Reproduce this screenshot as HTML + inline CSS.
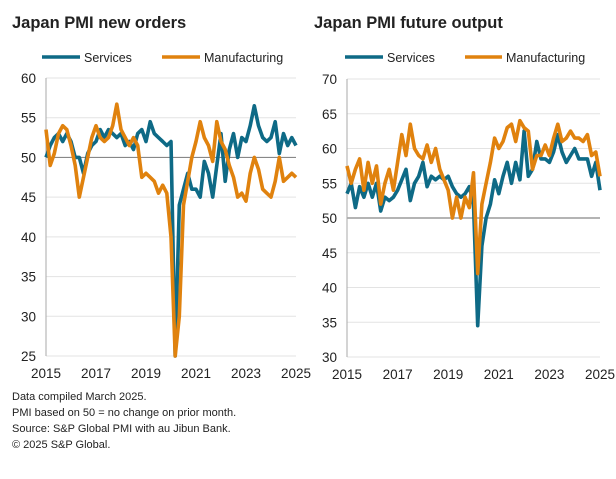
<!DOCTYPE html>
<html><head><meta charset="utf-8"><style>
body{margin:0;background:#fff;font-family:"Liberation Sans",sans-serif;}
svg text{font-family:"Liberation Sans",sans-serif;fill:#222;}
</style></head><body>
<svg id="c" width="616" height="474" xmlns="http://www.w3.org/2000/svg">
<text x="12" y="28" font-size="16.5" font-weight="bold">Japan PMI new orders</text>
<text x="314" y="28" font-size="16.5" font-weight="bold">Japan PMI future output</text>
<g font-size="12.5">
<line x1="42" y1="57" x2="80" y2="57" stroke="#0e6a86" stroke-width="3.5"/>
<text x="84" y="62">Services</text>
<line x1="162" y1="57" x2="200" y2="57" stroke="#e0820e" stroke-width="3.5"/>
<text x="204" y="62">Manufacturing</text>
<line x1="345" y1="57" x2="383" y2="57" stroke="#0e6a86" stroke-width="3.5"/>
<text x="387" y="62">Services</text>
<line x1="465" y1="57" x2="502" y2="57" stroke="#e0820e" stroke-width="3.5"/>
<text x="506" y="62">Manufacturing</text>
</g>
<g font-size="11">
<text x="12" y="400">Data compiled March 2025.</text>
<text x="12" y="416">PMI based on 50 = no change on prior month.</text>
<text x="12" y="432">Source: S&amp;P Global PMI with au Jibun Bank.</text>
<text x="12" y="448">© 2025 S&amp;P Global.</text>
</g>
</svg>
<script>
const years = [2015,2017,2019,2021,2023,2025];
const leftTicks = [25,30,35,40,45,50,55,60];
const rightTicks = [30,35,40,45,50,55,60,65,70];
const leftServices = [50,51.5,52.5,53,52,53,52,50,50,48,50.5,51.5,52,53.5,52.5,53.5,53,52.5,53,51.5,52,51,53,53.5,52,54.5,53,52.5,52,51.5,52,25,44,46,48,46,46,45,49.5,48,45,49,53,47,51,53,50,52.5,52,54,56.5,54,52.5,52,52.5,54.5,50.5,53,51.5,52.5,51.5];
const leftManufacturing = [53.5,49,50.5,53,54,53.5,51.5,49,45,47.5,50,52.5,54,52.5,52,52.5,54,56.7,53.5,52.5,51.5,52.5,51.5,47.5,48,47.5,47,45.5,46.5,45.5,40,25,30,44,47,50,52,54.5,52.5,51.5,49.5,54.5,52,51,49,47.5,45,45.5,44.5,48,50,48.5,46,45.5,45,47,50,47,47.5,48,47.5];
const rightServices = [53.5,55,51.5,54.5,53,55,53,55,51,53,52.5,53,54,55.5,57,52.5,55,56,58,54.5,56,55.5,56,55.5,56,54.5,53.5,53,53.5,54.5,52,34.5,46,50,52,55.5,53.5,56,58,55,58,55.5,62.5,56,57,61,58.5,58.5,58,59.5,62,59.5,58,59,60,58.5,58.5,58.5,56,58,54];
const rightManufacturing = [57.5,55,57,58.5,54,58,55,57.5,52,55,57,54,58,62,59,63.5,60,59,58.5,60.5,58,60,57,55.5,54,50,53,50,53,51.5,56.5,42,52,55,58,61.5,60,61,63,63.5,61,64,63,62.5,57,59,59,60.5,59,61.5,63.5,61,61.5,62.5,61.5,61.5,61,62,59,59.5,56];

const NS='http://www.w3.org/2000/svg';
const svg=document.getElementById('c');
function el(tag,attrs){const e=document.createElementNS(NS,tag);for(const k in attrs)e.setAttribute(k,attrs[k]);svg.appendChild(e);return e;}

function panel(side,x0,x1,yTop,yBot,vmin,vmax,ticks,s1,s2){
  const xs=t=>x0+(t-2015)/10*(x1-x0);
  const ys=v=>yBot-(v-vmin)/(vmax-vmin)*(yBot-yTop);
  ticks.forEach(v=>{
    const g=el('line',{x1:x0,x2:x1,y1:ys(v),y2:ys(v),stroke:v===50?'#888':'#e3e3e3','stroke-width':v===50?1.2:1});
    
    
    const t=el('text',{x:x0-10,y:ys(v)+5,'text-anchor':'end','font-size':'13.5'});
    t.textContent=v;
    
    
  });
  const ax=el('line',{x1:x0,x2:x0,y1:yTop,y2:yBot,stroke:'#aaa','stroke-width':1});
  
  
  years.forEach(y=>{
    const t=el('text',{x:xs(y),y:yBot+22,'text-anchor':'middle','font-size':'13.5'});
    t.textContent=y;
    
    
  });
  [[s1,'#0e6a86','services'],[s2,'#e0820e','manufacturing']].forEach(([d,c,n])=>{
    const pts=d.map((v,i)=>xs(2015+i/6).toFixed(1)+','+ys(Math.max(v,vmin)).toFixed(1)).join(' ');
    const p=el('polyline',{points:pts,fill:'none',stroke:c,'stroke-width':3.6,'stroke-linejoin':'round'});
    
    
  });
}
panel('left',46,296,78,356,25,60,leftTicks,leftServices,leftManufacturing);
panel('right',347,600,79,357,30,70,rightTicks,rightServices,rightManufacturing);
</script>
</body></html>
